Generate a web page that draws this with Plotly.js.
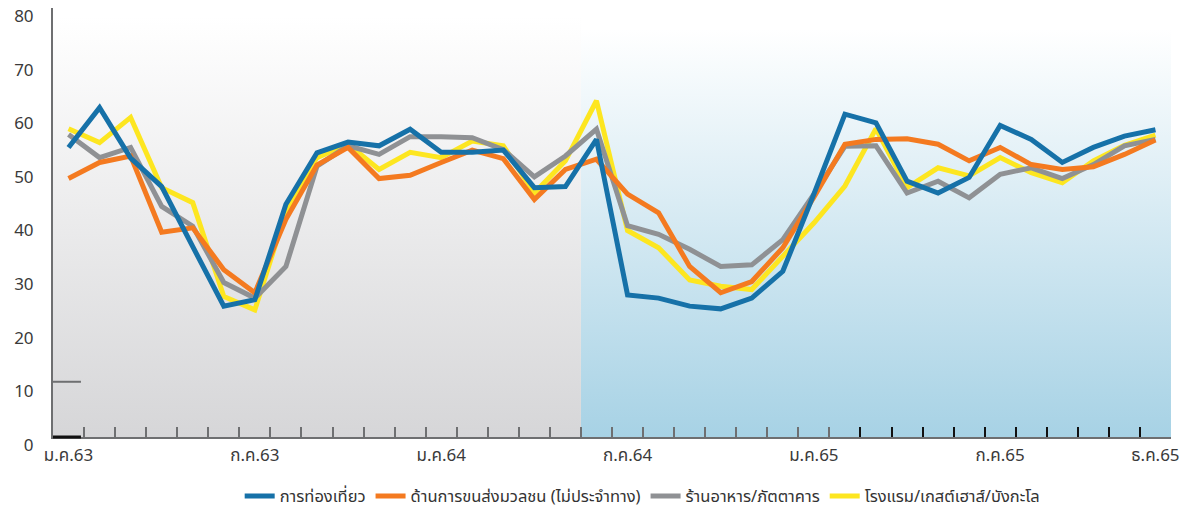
<!DOCTYPE html>
<html>
<head>
<meta charset="utf-8">
<script src="https://cdn.plot.ly/plotly-3.0.1.min.js"></script>
<style>
html,body{margin:0;padding:0;background:#fff;}
#chart{width:1182px;height:509px;}
</style>
</head>
<body>
<div id="chart"></div>
<script>
// Months Jan 2020 (ม.ค.63) .. Dec 2022 (ธ.ค.65)
var months = ['ม.ค.63','ก.พ.63','มี.ค.63','เม.ย.63','พ.ค.63','มิ.ย.63','ก.ค.63','ส.ค.63','ก.ย.63','ต.ค.63','พ.ย.63','ธ.ค.63',
              'ม.ค.64','ก.พ.64','มี.ค.64','เม.ย.64','พ.ค.64','มิ.ย.64','ก.ค.64','ส.ค.64','ก.ย.64','ต.ค.64','พ.ย.64','ธ.ค.64',
              'ม.ค.65','ก.พ.65','มี.ค.65','เม.ย.65','พ.ค.65','มิ.ย.65','ก.ค.65','ส.ค.65','ก.ย.65','ต.ค.65','พ.ย.65','ธ.ค.65'];

var seriesNames = ['การท่องเที่ยว','ด้านการขนส่งมวลชน (ไม่ประจำทาง)','ร้านอาหาร/ภัตตาคาร','โรงแรม/เกสต์เฮาส์/บังกะโล'];

var tourism    = [54.0,61.4,52.0,46.7,35.5,24.4,25.6,43.4,53.0,55.0,54.3,57.4,53.1,53.1,53.5,46.5,46.7,55.5,
                  26.5,25.9,24.4,23.9,25.9,30.9,45.3,60.2,58.6,47.7,45.5,48.4,58.1,55.5,51.2,54.0,56.1,57.3];
var transport  = [48.2,51.2,52.4,38.2,39.0,31.2,26.9,40.6,50.7,54.0,48.2,48.8,51.2,53.5,51.9,44.3,49.9,51.8,
                  45.3,41.8,31.8,26.9,29.0,35.3,44.7,54.6,55.5,55.6,54.6,51.5,54.0,50.8,49.9,50.4,52.7,55.4];
var restaurant = [56.4,52.1,54.0,43.0,39.3,28.8,25.9,31.8,50.5,54.3,52.7,56.0,56.0,55.8,53.6,48.5,52.4,57.4,
                  39.4,37.8,35.0,31.8,32.1,36.8,45.3,54.2,54.3,45.5,47.7,44.6,49.0,50.2,48.2,50.8,54.3,55.5];
var hotel      = [57.5,54.9,59.6,46.5,43.7,26.2,23.7,42.0,52.1,54.6,49.9,53.1,52.1,55.2,54.3,45.5,51.5,62.7,
                  38.5,35.3,29.3,28.1,27.5,33.7,39.9,46.8,57.5,46.5,50.2,48.7,52.1,49.3,47.4,51.5,54.4,56.3];

var tickLabels = ['ม.ค.63','ก.ค.63','ม.ค.64','ก.ค.64','ม.ค.65','ก.ค.65','ธ.ค.65'];
var yTicks = [0,10,20,30,40,50,60,70,80];

var colors = {tourism:'#1671a8', transport:'#f47a20', restaurant:'#8f9194', hotel:'#fde620'};

var idx = months.map(function(m,i){return i;});
var tickIdx = tickLabels.map(function(t){return months.indexOf(t);});
var n = months.length;
var split = months.indexOf('มิ.ย.64') - 0.5;   // start of shaded (blue) period
var darkFrom = months.indexOf('มี.ค.65') - 0.5; // ticks drawn darker from here

var FONT = 'Noto Sans Thai, Noto Sans Thai Looped, Kanit, Prompt, Noto Sans, sans-serif';

function tr(name, y, color, rank){
  return {x: idx, y: y, name: name, type: 'scatter', mode: 'lines', text: months,
          hovertemplate: '%{text}: %{y}<extra>'+name+'</extra>',
          line: {color: color, width: 5, shape: 'linear'}, legendrank: rank};
}
var data = [
  tr(seriesNames[3], hotel, colors.hotel, 4),
  tr(seriesNames[2], restaurant, colors.restaurant, 3),
  tr(seriesNames[1], transport, colors.transport, 2),
  tr(seriesNames[0], tourism, colors.tourism, 1),
  {x: idx, y: tourism, xaxis: 'x2', type: 'scatter', mode: 'lines', showlegend: false,
   hoverinfo: 'skip', line: {color: 'rgba(0,0,0,0)', width: 0}}
];

function grad(top, bottom, whiteStop){
  var svg = "<svg xmlns='http://www.w3.org/2000/svg' width='100' height='100' viewBox='0 0 100 100' preserveAspectRatio='none'>" +
    "<defs><linearGradient id='g' x1='0' y1='0' x2='0' y2='1'>" +
    "<stop offset='0' stop-color='"+top+"'/><stop offset='"+whiteStop+"' stop-color='"+top+"'/>" +
    "<stop offset='1' stop-color='"+bottom+"'/></linearGradient></defs>" +
    "<rect x='0' y='0' width='100' height='100' fill='url(#g)'/></svg>";
  return 'data:image/svg+xml;charset=utf-8,' + encodeURIComponent(svg);
}

var minorGrey = [], majorDark = [];
for (var k = 0; k < n; k++){
  var b = k + 0.5;
  if (b < darkFrom) minorGrey.push(b); else majorDark.push(b);
}

var layout = {
  width: 1182, height: 509,
  margin: {l: 53, r: 11, t: 8, b: 72, autoexpand: false},
  paper_bgcolor: '#ffffff',
  plot_bgcolor: 'rgba(0,0,0,0)',
  font: {family: FONT, color: '#3a3a3a', size: 17},
  showlegend: true,
  legend: {orientation: 'h', x: 0.527, xanchor: 'center', y: -0.138, yanchor: 'middle',
           font: {family: FONT, size: 16.5, color: '#333333'}, bgcolor: 'rgba(0,0,0,0)',
           itemwidth: 30, tracegroupgap: 0},
  xaxis: {
    range: [-0.5, n - 0.5], showgrid: false, zeroline: false,
    showline: true, linecolor: '#6e6f71', linewidth: 2,
    tickmode: 'array', tickvals: tickIdx, ticktext: tickLabels, ticks: '',
    tickfont: {family: FONT, size: 17, color: '#3a3a3a'},
    ticklabelstandoff: 2,
    minor: {tickmode: 'array', tickvals: minorGrey, ticks: 'inside', ticklen: 10, tickwidth: 2, tickcolor: '#6e6f71', showgrid: false},
    fixedrange: true
  },
  xaxis2: {
    overlaying: 'x', matches: 'x', range: [-0.5, n - 0.5], showgrid: false, zeroline: false, showline: false,
    tickmode: 'array', tickvals: majorDark, ticks: 'inside', ticklen: 10, tickwidth: 2, tickcolor: '#111111',
    showticklabels: false, side: 'bottom', anchor: 'y'
  },
  yaxis: {
    range: [0, 80], showgrid: false, zeroline: false,
    showline: true, linecolor: '#6e6f71', linewidth: 2,
    tickmode: 'array', tickvals: yTicks, ticks: '',
    tickfont: {family: FONT, size: 17, color: '#3a3a3a'},
    ticklabelshift: 8, ticklabelstandoff: 14,
    fixedrange: true
  },
  images: [
    {source: grad('#ffffff', '#d6d6d8', 0.02), xref: 'x', yref: 'y', x: -0.5, y: 80,
     sizex: split + 0.5, sizey: 80, sizing: 'stretch', xanchor: 'left', yanchor: 'top', layer: 'below'},
    {source: grad('#ffffff', '#a7d2e5', 0.05), xref: 'x', yref: 'y', x: split, y: 80,
     sizex: n - 0.5 - split, sizey: 80, sizing: 'stretch', xanchor: 'left', yanchor: 'top', layer: 'below'}
  ],
  shapes: [
    {type: 'line', xref: 'x', yref: 'y', x0: -0.5, x1: 0.4, y0: 10.3, y1: 10.3, line: {color: '#6e6f71', width: 2}},
    {type: 'line', xref: 'x', yref: 'paper', x0: -0.5, x1: 0.4, y0: 0, y1: 0, yshift: 1, line: {color: '#111111', width: 3}}
  ]
};

Plotly.newPlot('chart', data, layout, {displayModeBar: false, staticPlot: true});
</script>
</body>
</html>
